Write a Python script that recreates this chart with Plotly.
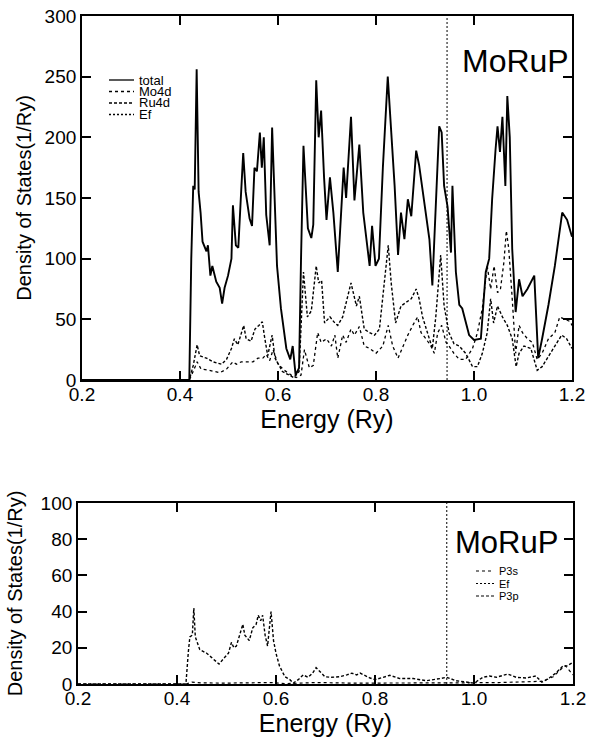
import plotly.graph_objects as go

# ---------------- data ----------------
EF = 0.945

total_E = [0.20, 0.419, 0.423, 0.427, 0.430, 0.434, 0.438, 0.442, 0.446, 0.454,
           0.457, 0.462, 0.466, 0.474, 0.481, 0.486, 0.491, 0.498, 0.505, 0.508,
           0.514, 0.519, 0.524, 0.529, 0.534, 0.542, 0.547, 0.552, 0.557, 0.563,
           0.567, 0.571, 0.576, 0.583, 0.588, 0.592, 0.598, 0.606, 0.617, 0.625,
           0.630, 0.636, 0.643, 0.647, 0.652, 0.661, 0.668, 0.672, 0.678, 0.683,
           0.688, 0.694, 0.699, 0.706, 0.713, 0.722, 0.729, 0.734, 0.739, 0.749,
           0.756, 0.766, 0.774, 0.780, 0.787, 0.792, 0.799, 0.806, 0.814, 0.824,
           0.831, 0.838, 0.845, 0.851, 0.858, 0.865, 0.872, 0.882, 0.888, 0.895,
           0.902, 0.909, 0.915, 0.922, 0.929, 0.934, 0.939, 0.946, 0.953, 0.956,
           0.963, 0.970, 0.976, 0.990, 1.000, 1.014, 1.024, 1.031, 1.037, 1.044,
           1.048, 1.053, 1.058, 1.064, 1.068, 1.073, 1.078, 1.085, 1.092, 1.099,
           1.109, 1.123, 1.131, 1.139, 1.152, 1.165, 1.180, 1.190, 1.197, 1.200]
total_V = [0, 0, 100, 160, 157, 256, 155, 138, 114, 106,
           111, 86, 94, 81, 76, 63, 76, 86, 100, 144,
           111, 109, 149, 187, 155, 133, 127, 175, 172, 204,
           175, 200, 136, 111, 208, 155, 94, 59, 26, 17,
           28, 4, 10, 100, 193, 125, 117, 128, 247, 200,
           222, 167, 132, 167, 138, 89, 145, 175, 150, 217,
           148, 194, 138, 119, 94, 127, 94, 100, 175, 250,
           204, 160, 103, 138, 116, 149, 135, 189, 177, 157,
           138, 116, 78, 149, 209, 204, 160, 143, 105, 160,
           89, 62, 59, 37, 33, 34, 89, 100, 149, 190,
           209, 188, 217, 160, 234, 200, 108, 56, 83, 69,
           75, 86, 18, 34, 62, 94, 138, 132, 122, 118]

mo_E = [0.20, 0.419, 0.430, 0.435, 0.443, 0.460, 0.481, 0.495, 0.508, 0.515,
        0.525, 0.535, 0.549, 0.559, 0.569, 0.576, 0.583, 0.590, 0.600, 0.613,
        0.627, 0.637, 0.647, 0.654, 0.664, 0.672, 0.681, 0.688, 0.699, 0.709,
        0.716, 0.722, 0.732, 0.739, 0.749, 0.756, 0.766, 0.776, 0.787, 0.800,
        0.814, 0.825, 0.834, 0.845, 0.855, 0.865, 0.875, 0.885, 0.892, 0.902,
        0.912, 0.919, 0.926, 0.934, 0.943, 0.949, 0.959, 0.970, 0.983, 0.997,
        1.007, 1.017, 1.027, 1.034, 1.041, 1.048, 1.054, 1.061, 1.066, 1.071,
        1.078, 1.085, 1.092, 1.099, 1.109, 1.119, 1.129, 1.139, 1.152, 1.165,
        1.175, 1.185, 1.197, 1.200]
mo_V = [0, 0, 10, 15, 9, 8, 6, 9, 15, 13,
        15, 15, 15, 18, 18, 21, 16, 25, 13, 8,
        4, 2, 4, 25, 10, 12, 39, 31, 34, 28,
        37, 18, 37, 31, 42, 37, 44, 28, 26, 22,
        28, 45, 28, 18, 28, 37, 45, 52, 39, 34,
        28, 22, 39, 45, 31, 28, 22, 17, 17, 26,
        39, 59, 94, 75, 94, 72, 75, 97, 123, 108,
        67, 22, 45, 39, 34, 31, 17, 22, 34, 39,
        52, 50, 48, 45]

ru_E = [0.20, 0.419, 0.427, 0.435, 0.440, 0.454, 0.467, 0.485, 0.495, 0.505,
        0.511, 0.518, 0.530, 0.535, 0.545, 0.553, 0.561, 0.568, 0.572, 0.579,
        0.588, 0.594, 0.609, 0.622, 0.632, 0.643, 0.652, 0.660, 0.668, 0.678,
        0.683, 0.689, 0.695, 0.706, 0.716, 0.722, 0.732, 0.749, 0.760, 0.766,
        0.776, 0.787, 0.797, 0.807, 0.817, 0.825, 0.831, 0.840, 0.851, 0.861,
        0.872, 0.882, 0.888, 0.895, 0.905, 0.915, 0.922, 0.932, 0.939, 0.949,
        0.959, 0.970, 0.983, 0.997, 1.007, 1.017, 1.027, 1.034, 1.040, 1.048,
        1.058, 1.068, 1.078, 1.086, 1.092, 1.102, 1.116, 1.129, 1.139, 1.152,
        1.165, 1.179, 1.189, 1.200]
ru_V = [0, 0, 12, 29, 20, 18, 15, 13, 17, 26,
        34, 29, 45, 34, 32, 42, 45, 48, 37, 20,
        37, 18, 7, 4, 2, 7, 89, 52, 57, 94,
        80, 82, 47, 52, 47, 45, 52, 80, 61, 69,
        42, 39, 37, 42, 80, 111, 80, 47, 61, 64,
        67, 75, 67, 52, 39, 26, 52, 103, 61, 39,
        30, 28, 22, 11, 11, 22, 39, 67, 47, 61,
        52, 45, 34, 11, 22, 28, 26, 8, 11, 19,
        28, 37, 34, 26]

p3p_E = [0.20, 0.418, 0.423, 0.426, 0.431, 0.434, 0.437, 0.440, 0.446, 0.460,
         0.473, 0.485, 0.494, 0.504, 0.510, 0.515, 0.520, 0.527, 0.533, 0.537,
         0.546, 0.553, 0.560, 0.564, 0.569, 0.573, 0.578, 0.583, 0.587, 0.590,
         0.595, 0.600, 0.607, 0.618, 0.628, 0.635, 0.645, 0.655, 0.665, 0.674,
         0.681, 0.689, 0.699, 0.712, 0.729, 0.743, 0.753, 0.763, 0.770, 0.790,
         0.800, 0.830, 0.850, 0.877, 0.904, 0.931, 0.945, 0.964, 0.984, 1.000,
         1.018, 1.031, 1.045, 1.068, 1.085, 1.105, 1.125, 1.137, 1.152, 1.165,
         1.180, 1.188, 1.200]
p3p_V = [0, 0, 18, 26, 27, 42, 26, 24, 19, 17,
         14, 11, 14, 17, 23, 20, 21, 27, 33, 27,
         24, 31, 33, 38, 35, 38, 27, 21, 31, 40,
         24, 17, 10, 4, 2.4, 0.5, 2.4, 5, 3.7, 6,
         9, 7, 4, 3.7, 4, 5, 6, 5, 6, 3.3,
         2.4, 4.8, 3, 3, 1.8, 3, 3.7, 1.8, 1, 0.5,
         3.7, 4.4, 3.7, 5.5, 3.7, 3.3, 4.4, 1, 3.3, 6,
         10, 10, 12]

p3s_E = [0.20, 0.418, 0.43, 0.45, 0.50, 0.55, 0.59, 0.62, 0.68, 0.75,
         0.85, 0.95, 1.05, 1.10, 1.14, 1.16, 1.175, 1.185, 1.200]
p3s_V = [0, 0, 1.0, 0.6, 0.5, 0.7, 0.8, 0.2, 0.8, 0.5,
         0.4, 0.6, 0.8, 1.0, 1.5, 4, 8, 10, 5]

x_ticks = [0.2, 0.4, 0.6, 0.8, 1.0, 1.2]
x_ticklabels = ["0.2", "0.4", "0.6", "0.8", "1.0", "1.2"]
y1_ticks = [0, 50, 100, 150, 200, 250, 300]
y2_ticks = [0, 20, 40, 60, 80, 100]

top_legend = [("total", "solid"), ("Mo4d", "dot"), ("Ru4d", "3px,2px"), ("Ef", "2px,2px")]
bot_legend = [("P3s", "dot"), ("Ef", "2px,2px"), ("P3p", "3px,2px")]

# ---------------- figure ----------------
W, H = 589, 747
FONT = "Liberation Sans, Arial, Helvetica, sans-serif"


def px(x):
    return x / W


def py(y):
    return 1 - y / H


fig = go.Figure()

fig.add_trace(go.Scatter(x=mo_E, y=mo_V, mode="lines", name="Mo4d",
                         line=dict(color="black", width=1.3, dash="dot"),
                         xaxis="x", yaxis="y"))
fig.add_trace(go.Scatter(x=ru_E, y=ru_V, mode="lines", name="Ru4d",
                         line=dict(color="black", width=1.4, dash="3px,2px"),
                         xaxis="x", yaxis="y"))
fig.add_trace(go.Scatter(x=total_E, y=total_V, mode="lines", name="total",
                         line=dict(color="black", width=1.9),
                         xaxis="x", yaxis="y"))
fig.add_trace(go.Scatter(x=p3s_E, y=p3s_V, mode="lines", name="P3s",
                         line=dict(color="black", width=1.2, dash="dot"),
                         xaxis="x2", yaxis="y2"))
fig.add_trace(go.Scatter(x=p3p_E, y=p3p_V, mode="lines", name="P3p",
                         line=dict(color="black", width=1.4, dash="3px,2px"),
                         xaxis="x2", yaxis="y2"))

axis_common = dict(showline=True, linecolor="black", linewidth=1.8, mirror="ticks",
                   ticks="inside", ticklen=9, tickwidth=1.5, tickcolor="black",
                   showgrid=False, zeroline=False, automargin=False,
                   tickfont=dict(family=FONT, size=19, color="black"))

title_x_font = dict(family=FONT, size=25, color="black")
title_y_font = dict(family=FONT, size=20, color="black")

fig.update_layout(
    width=W, height=H, margin=dict(l=0, r=0, t=0, b=0, autoexpand=False),
    paper_bgcolor="white", plot_bgcolor="white", showlegend=False,
    xaxis=dict(domain=[px(82), px(572)], range=[0.2, 1.2], anchor="y",
               tickvals=x_ticks, ticktext=x_ticklabels, ticklabelstandoff=-4,
               title=dict(text="Energy (Ry)", font=title_x_font, standoff=3),
               **axis_common),
    yaxis=dict(domain=[py(380), py(16)], range=[0, 300], anchor="x",
               tickvals=y1_ticks,
               title=dict(text="Density of States(1/Ry)", font=title_y_font, standoff=8),
               **axis_common),
    xaxis2=dict(domain=[px(78), px(573)], range=[0.2, 1.2], anchor="y2",
                tickvals=x_ticks, ticktext=x_ticklabels, ticklabelstandoff=-4,
                title=dict(text="Energy (Ry)", font=title_x_font, standoff=3),
                **axis_common),
    yaxis2=dict(domain=[py(684), py(503)], range=[0, 100], anchor="x2",
                tickvals=y2_ticks,
                title=dict(text="Density of States(1/Ry)", font=title_y_font, standoff=13),
                **axis_common),
)

# Fermi level lines
for xr, yr in (("x", "y domain"), ("x2", "y2 domain")):
    fig.add_shape(type="line", xref=xr, yref=yr, x0=EF, x1=EF, y0=0, y1=1,
                  line=dict(color="black", width=1, dash="2px,2px"))

# MoRuP labels
fig.add_annotation(text="MoRuP", xref="paper", yref="paper", x=px(460), y=py(61),
                   xanchor="left", yanchor="middle", showarrow=False,
                   font=dict(family=FONT, size=32, color="black"))
fig.add_annotation(text="MoRuP", xref="paper", yref="paper", x=px(453), y=py(542),
                   xanchor="left", yanchor="middle", showarrow=False,
                   font=dict(family=FONT, size=31, color="black"))

# manual legends
for i, (lab, dash) in enumerate(top_legend):
    yy = 80 + i * 11.5
    fig.add_shape(type="line", xref="paper", yref="paper", x0=px(109), x1=px(134),
                  y0=py(yy), y1=py(yy), line=dict(color="black", width=1.3, dash=dash))
    fig.add_annotation(text=lab, xref="paper", yref="paper", x=px(137), y=py(yy),
                       xanchor="left", yanchor="middle", showarrow=False,
                       font=dict(family=FONT, size=13, color="black"))
for i, (lab, dash) in enumerate(bot_legend):
    yy = 571 + i * 12.5
    fig.add_shape(type="line", xref="paper", yref="paper", x0=px(476), x1=px(494),
                  y0=py(yy), y1=py(yy), line=dict(color="black", width=1.2, dash=dash))
    fig.add_annotation(text=lab, xref="paper", yref="paper", x=px(497), y=py(yy),
                       xanchor="left", yanchor="middle", showarrow=False,
                       font=dict(family=FONT, size=11, color="black"))

fig.write_html("out.html", config={"displayModeBar": False},
               post_script="document.body.style.margin='0';")
